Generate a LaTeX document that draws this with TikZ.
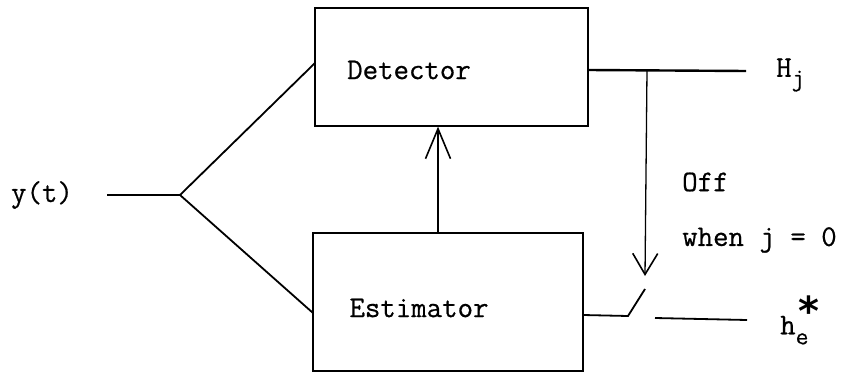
\documentclass[tikz,border=0pt]{standalone}
\usepackage{fontspec}
\setmonofont[FakeBold=0.6]{Latin Modern Mono}
\newfontfamily\starfont{DejaVu Sans}
\usetikzlibrary{arrows.meta}
\begin{document}
\begin{tikzpicture}[x=1pt,y=-1pt,
  font=\fontsize{30}{33}\selectfont\ttfamily,
  blk/.style={draw,line width=1.3pt,inner sep=0pt},
  txt/.style={inner sep=0pt},
  wire/.style={line width=1.8pt},
  barb/.style={-{Straight Barb[length=#1pt,width=25pt,line width=1.6pt]}},
]
\useasboundingbox (0,0) rectangle (848,377);
% boxes
\node[blk,minimum width=273pt,minimum height=118pt] (det) at (451.5,67) {};
\node[blk,minimum width=270pt,minimum height=138pt] (est) at (448,302) {};
\node[txt] (dettxt) at (409,70) {Detector};
\node[txt] (esttxt) at (419,308) {Estimator};
% labels
\node[txt] (yt) at (42,195) {y(t)};
\node[txt,anchor=west] (hj) at (776,75) {H\raisebox{-9pt}{\fontsize{25}{25}\selectfont j}};
\node[txt,anchor=west] (off) at (682,182) {Off};
\node[txt,anchor=west] (when) at (682,240) {when j = 0};
\node[txt,anchor=west] (he) at (780,320) {h\raisebox{-10pt}{\fontsize{25}{25}\selectfont e}\hspace{-10pt}\raisebox{9pt}{\fontsize{40}{40}\starfont\bfseries *}};
% coordinates
\coordinate (yin) at (107,195);
\coordinate (split) at (180,195);
\coordinate (detin) at (315,63);
\coordinate (estin) at (313,313);
\coordinate (detout) at (588,70);
\coordinate (jn) at (647,70);
\coordinate (hjend) at (746,71);
\coordinate (sw0) at (583,315);
\coordinate (sw1) at (628,316);
\coordinate (sw2) at (645,289);
\coordinate (sw3) at (655,318);
\coordinate (heend) at (747,320);
\coordinate (arrtip) at (645,276);
% input fork
\draw[wire] (yin) -- (split) -- (detin);
\draw[wire] (split) -- (estin);
% estimator to detector
\draw[line width=1.3pt,barb=30] (est.north -| 438,0) -- (det.south -| 438,0);
% detector output
\draw[line width=2.4pt] (detout) -- (hjend);
\draw[line width=1.3pt,barb=21] (jn) -- (arrtip);
% switch
\draw[wire] (sw0) -- (sw1) -- (sw2);
\draw[wire] (sw3) -- (heend);
\end{tikzpicture}
\end{document}
